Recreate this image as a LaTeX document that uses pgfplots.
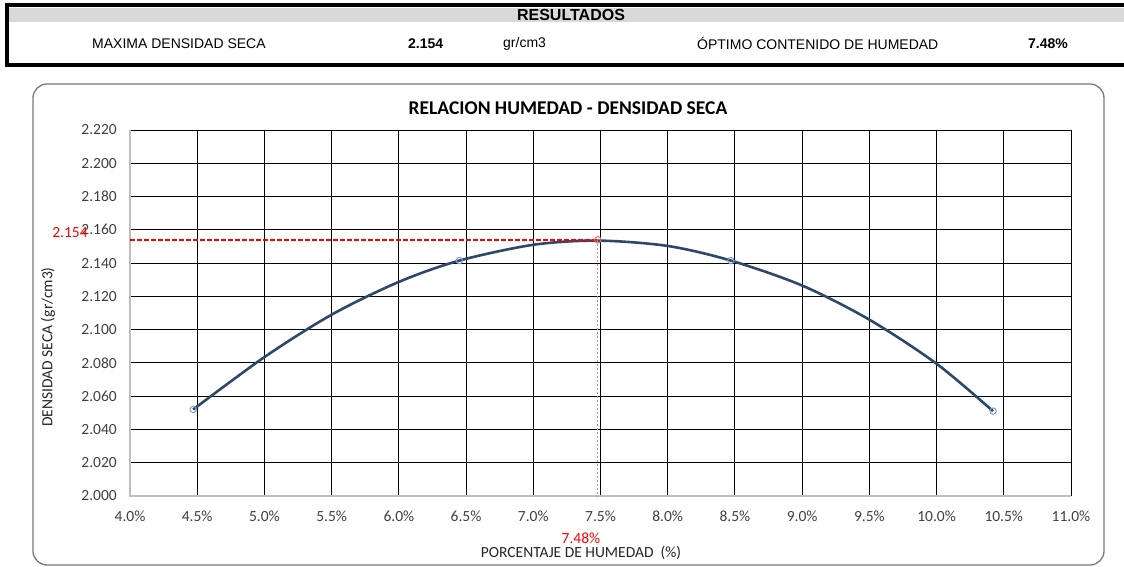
\documentclass[border=0pt]{standalone}
\usepackage{pgfplots}
\pgfplotsset{compat=1.18}
\usepackage{fontspec}
\setmainfont{Carlito}
\newfontfamily\arial{Liberation Sans}
\definecolor{tickc}{RGB}{64,64,64}
\definecolor{curvec}{RGB}{47,72,106}
\definecolor{mkc}{RGB}{125,155,205}
\definecolor{hdr}{RGB}{217,217,217}
\definecolor{framec}{RGB}{120,120,120}
\definecolor{axgray}{RGB}{190,190,190}
\begin{document}
\begin{tikzpicture}[x=1pt,y=1pt]
\path[use as bounding box] (0,0) rectangle (1124,567);
\fill[white] (0,0) rectangle (1124,567);
% header
\fill[hdr] (8,545) rectangle (1130,559);
\draw[line width=4pt] (7,562) rectangle (1140,502);
\node[inner sep=0pt,font=\arial\bfseries\fontsize{16}{18}\selectfont] at (571,552) {RESULTADOS};
\begin{scope}[every node/.style={inner sep=0pt,font=\arial\fontsize{14}{16}\selectfont}]
\node[anchor=west] at (92,523) {MAXIMA DENSIDAD SECA};
\node[anchor=west,font=\arial\bfseries\fontsize{14}{16}\selectfont] at (408,523) {2.154};
\node[anchor=west] at (503,523) {gr/cm3};
\node[anchor=west] at (697,523) {ÓPTIMO CONTENIDO DE HUMEDAD};
\node[anchor=east,font=\arial\bfseries\fontsize{14}{16}\selectfont] at (1068,523) {7.48\%};
\end{scope}
% chart frame
\draw[framec, line width=1.3pt, rounded corners=14pt] (33,483) rectangle (1104,2);
\node[font=\bfseries\fontsize{19.5}{22}\selectfont] at (568,459) {RELACION HUMEDAD - DENSIDAD SECA};
\begin{axis}[
  at={(130pt,71pt)}, anchor=south west,
  scale only axis, width=941pt, height=366pt,
  xmin=4, xmax=11, ymin=2.0, ymax=2.22,
  xtick={4,4.5,...,11.01},
  xticklabels={4.0\%,4.5\%,5.0\%,5.5\%,6.0\%,6.5\%,7.0\%,7.5\%,8.0\%,8.5\%,9.0\%,9.5\%,10.0\%,10.5\%,11.0\%},
  ytick={2.0,2.02,...,2.221},
  yticklabels={2.000,2.020,2.040,2.060,2.080,2.100,2.120,2.140,2.160,2.180,2.200,2.220},
  grid=major,
  major grid style={black, line width=0.9pt},
  axis line style={draw=none},
  major tick length=0pt,
  tick label style={font=\fontsize{15.5}{18}\selectfont, text=tickc, inner sep=0pt},
  yticklabel style={xshift=-13pt},
  xticklabel style={yshift=-15pt},
  clip=false,
]
\draw[axgray, line width=1.2pt] (axis cs:4,2.22) -- (axis cs:4,2.0) -- (axis cs:11,2.0);
\addplot[curvec, line width=2.6pt, smooth] coordinates {
  (4.47,2.052) (5.0,2.0835) (5.5,2.109) (6.0,2.1287) (6.45,2.1415) (7.0,2.151)
  (7.48,2.1535) (8.0,2.1503) (8.47,2.1415) (9.0,2.1265) (9.5,2.106) (10.0,2.0795) (10.42,2.051)};
\addplot[only marks, mark=o, mark size=3.2pt, mkc, mark options={line width=1pt}] coordinates {
  (4.47,2.052) (6.45,2.1415) (8.47,2.1415) (10.42,2.051)};
\addplot[red, line width=2.2pt, dash pattern=on 5pt off 2pt] coordinates {(4,2.154) (7.48,2.154)};
\addplot[red!55, line width=1.3pt, dash pattern=on 2.5pt off 1.5pt] coordinates {(7.48,2.154) (7.48,2.0)};
\addplot[only marks, mark=o, mark size=3.2pt, red!60, mark options={line width=1pt}] coordinates {(7.48,2.154)};
\end{axis}
\node[font=\fontsize{15.5}{18}\selectfont, text=red] at (70,334) {2.154};
\node[font=\fontsize{15.5}{18}\selectfont, text=red] at (581,29) {7.48\%};
\node[font=\fontsize{15.5}{18}\selectfont, text=black!85, rotate=90] at (48,220) {DENSIDAD SECA (gr/cm3)};
\node[font=\fontsize{15.5}{18}\selectfont, text=black!85] at (581,14) {PORCENTAJE DE HUMEDAD\ \ (\%)};
\end{tikzpicture}
\end{document}
